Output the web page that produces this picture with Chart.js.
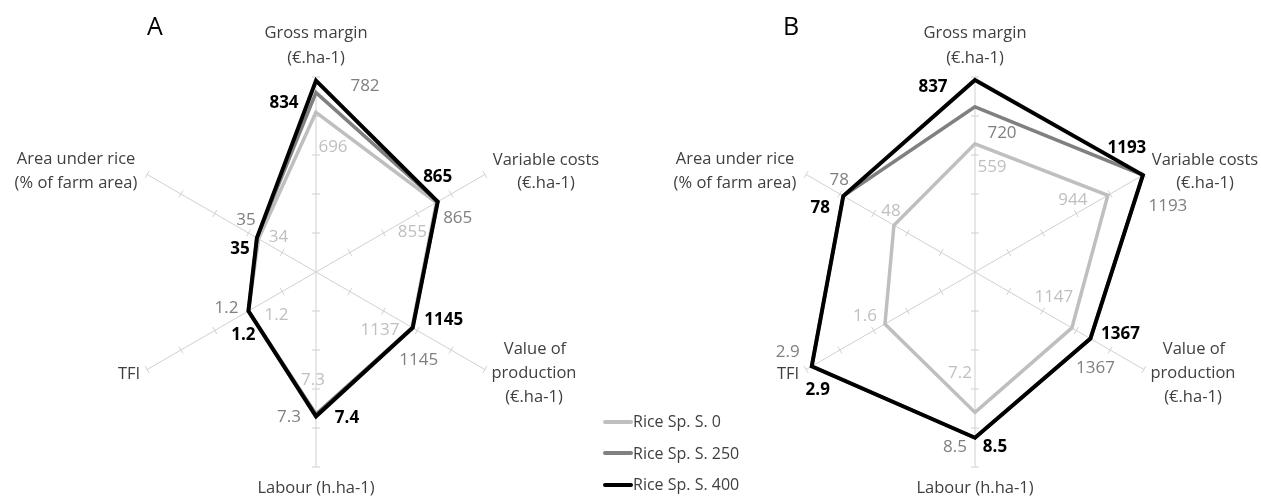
<!DOCTYPE html>
<html>
<head>
<meta charset="utf-8">
<script src="https://cdn.jsdelivr.net/npm/chart.js@4.4.1/dist/chart.umd.min.js"></script>
<style>
html,body{margin:0;padding:0;background:#fff;width:1261px;height:497px;overflow:hidden;font-family:"Open Sans",sans-serif;}
.wrap{position:absolute;top:0;height:497px;}
#wrapA{left:0;width:640px;}
#wrapB{left:640px;width:621px;}
#legend{position:absolute;left:603px;top:406px;z-index:5;}
.lrow{height:31.5px;line-height:31.5px;font-size:16px;color:#404040;white-space:nowrap;}
.lline{display:inline-block;width:30px;height:4px;vertical-align:middle;margin-right:0px;position:relative;top:-1px;border-radius:2px;}
</style>
</head>
<body>
<div class="wrap" id="wrapA"><canvas id="chartA" width="640" height="497"></canvas></div>
<div class="wrap" id="wrapB"><canvas id="chartB" width="621" height="497"></canvas></div>
<div id="legend"></div>
<script>
// ---------- DATA ----------
const axisLabels = [
  ["Gross margin", "(€.ha-1)"],
  ["Variable costs", "(€.ha-1)"],
  ["Value of", "production", "(€.ha-1)"],
  ["Labour (h.ha-1)"],
  ["TFI"],
  ["Area under rice", "(% of farm area)"]
];
const axisMax = [850, 1200, 2000, 10, 3, 100];
const seriesNames = ["Rice Sp. S. 0", "Rice Sp. S. 250", "Rice Sp. S. 400"];

const panelA_S0   = [696, 855, 1137, 7.3, 1.2, 34];
const panelA_S250 = [782, 865, 1145, 7.3, 1.2, 35];
const panelA_S400 = [834, 865, 1145, 7.4, 1.2, 35];

const panelB_S0   = [559, 944, 1147, 7.2, 1.6, 48];
const panelB_S250 = [720, 1193, 1367, 8.5, 2.9, 78];
const panelB_S400 = [837, 1193, 1367, 8.5, 2.9, 78];

const tickValues = [0.2, 0.4, 0.6, 0.8, 1.0];

// ---------- STYLE / LAYOUT ----------
const seriesColors = ["#bfbfbf", "#808080", "#000000"];
const seriesWidths = [3.5, 3.5, 4];
const labelColors = ["#bfbfbf", "#7f7f7f", "#000000"];
const labelWeights = ["normal", "normal", "bold"];
const AXIS_COLOR = "#d0d0d0";
const TEXT_COLOR = "#404040";
const FONT = "'Open Sans', sans-serif";

// value label offsets from their data point [dx, dy], per series, per axis
const offsetsA = [
  [[17, 35], [-24, 30], [-32, 3], [-3, -34], [28, 4], [20, -2]],
  [[49, -6], [20, 16], [6, 32], [-27, 3], [-22, -3], [-11, -18]],
  [[-32, 22], [0, -25], [31, -8], [31, 2], [-5, 24], [-17, 11]]
];
const offsetsB = [
  [[17, 23], [-35, 5], [-18, -31], [-15, -39], [-20, -8], [-3, -14]],
  [[27, 26], [25, 31], [5, 30], [-20, 9], [-24, -14], [-4, -16]],
  [[-42, 7], [-16, -27], [30, -4], [20, 9], [6, 24], [-23, 12]]
];
// axis title line offsets from the chart centre
const titleOffsets = [
  [[0, -239], [0, -214]],
  [[230, -112], [230, -89]],
  [[219, 77], [218, 101], [218, 125]],
  [[0, 216]],
  [[-187, 102]],
  [[-240, -113], [-240, -89]]
];

const annotPlugin = {
  id: 'annot',
  beforeDatasetsDraw(chart) {
    const s = chart.scales.r, ctx = chart.ctx;
    ctx.save();
    ctx.strokeStyle = AXIS_COLOR;
    ctx.lineWidth = 1;
    for (let i = 0; i < chart.data.labels.length; i++) {
      const a = s.getIndexAngle(i) - Math.PI / 2;
      const px = -Math.sin(a), py = Math.cos(a);
      tickValues.forEach(v => {
        const p = s.getPointPositionForValue(i, v);
        ctx.beginPath();
        ctx.moveTo(p.x - px * 4, p.y - py * 4);
        ctx.lineTo(p.x + px * 4, p.y + py * 4);
        ctx.stroke();
      });
    }
    ctx.restore();
  },
  afterDatasetsDraw(chart, args, opts) {
    const s = chart.scales.r, ctx = chart.ctx;
    ctx.save();
    ctx.textAlign = 'center';
    ctx.textBaseline = 'middle';
    // axis titles
    ctx.fillStyle = TEXT_COLOR;
    ctx.font = "16.5px " + FONT;
    chart.data.labels.forEach((lines, i) => {
      lines.forEach((t, k) => {
        const o = titleOffsets[i][k];
        ctx.fillText(t, s.xCenter + o[0], s.yCenter + o[1]);
      });
    });
    // value labels
    chart.data.datasets.forEach((ds, di) => {
      ctx.fillStyle = labelColors[di];
      ctx.font = labelWeights[di] + " 17px " + FONT;
      ds.rawValues.forEach((val, i) => {
        const p = s.getPointPositionForValue(i, ds.data[i]);
        const o = opts.offsets[di][i];
        ctx.fillText(String(val), p.x + o[0], p.y + o[1]);
      });
    });
    // panel letter
    ctx.fillStyle = "#000";
    ctx.font = "25px " + FONT;
    ctx.fillText(opts.letter, opts.letterPos[0], opts.letterPos[1]);
    ctx.restore();
  }
};

function makeChart(id, series, offsets, letter, letterPos, padding) {
  new Chart(document.getElementById(id), {
    type: 'radar',
    data: {
      labels: axisLabels,
      datasets: series.map((vals, di) => ({
        label: seriesNames[di],
        rawValues: vals,
        data: vals.map((v, i) => v / axisMax[i]),
        borderColor: seriesColors[di],
        backgroundColor: 'transparent',
        borderWidth: seriesWidths[di],
        borderJoinStyle: 'miter',
        fill: false,
        pointRadius: 0,
        pointHoverRadius: 0,
        tension: 0,
        order: 3 - di
      }))
    },
    options: {
      responsive: false,
      animation: false,
      layout: { padding: padding },
      plugins: {
        legend: { display: false },
        tooltip: { enabled: false },
        annot: { offsets: offsets, letter: letter, letterPos: letterPos }
      },
      scales: {
        r: {
          min: 0, max: 1,
          ticks: { display: false, stepSize: 0.2 },
          grid: { display: false },
          angleLines: { display: true, color: AXIS_COLOR, lineWidth: 1 },
          pointLabels: { display: false }
        }
      }
    },
    plugins: [annotPlugin]
  });
}

Chart.defaults.font.family = FONT;
makeChart('chartA', [panelA_S0, panelA_S250, panelA_S400], offsetsA, 'A', [155, 28],
  { left: 121, right: 129, top: 77, bottom: 30 });
makeChart('chartB', [panelB_S0, panelB_S250, panelB_S400], offsetsB, 'B', [151, 28],
  { left: 140, right: 91, top: 77, bottom: 30 });

// legend
const lg = document.getElementById('legend');
seriesNames.forEach((n, i) => {
  const row = document.createElement('div');
  row.className = 'lrow';
  const ln = document.createElement('span');
  ln.className = 'lline';
  ln.style.background = seriesColors[i];
  row.appendChild(ln);
  row.appendChild(document.createTextNode(n));
  lg.appendChild(row);
});
</script>
</body>
</html>
